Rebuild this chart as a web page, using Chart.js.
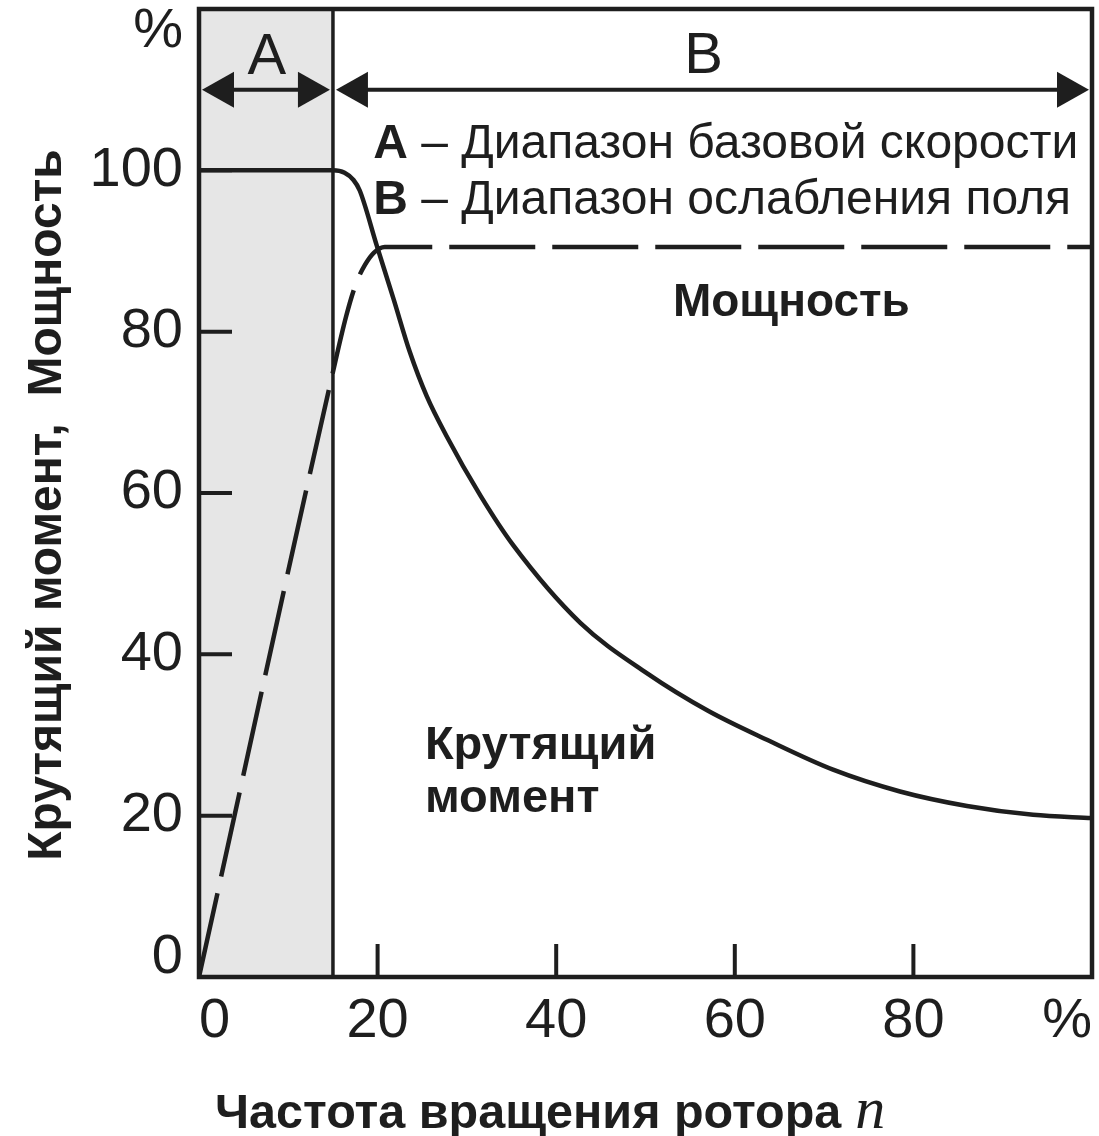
<!DOCTYPE html>
<html lang="ru">
<head>
<meta charset="UTF-8">
<title>Крутящий момент и мощность</title>
<script src="https://cdn.jsdelivr.net/npm/chart.js"></script>
<style>
    body { margin: 0; background: #fff; }
    #wrap { width: 1099px; height: 1136px; }
</style>
</head>
<body>
<div id="wrap"><canvas id="chart" width="1099" height="1136"></canvas></div>
<script>
// speed n, % of rated
const torqueSpeed  = [0, 15, 16.3, 17.3, 18, 19.9, 21.8, 23.6, 25.5, 27.7, 31.5, 35.2, 42.7, 50.1, 57, 63.6, 71, 78.5, 86, 93.4, 100];
const torqueValues = [100, 100, 99.7, 98.8, 97.5, 90.7, 84, 77.5, 72, 67.1, 59.7, 53.5, 43.9, 37.7, 33.0, 29.4, 25.7, 23, 21.2, 20.1, 19.7];
const powerSpeed   = [0, 15, 16.5, 17.6, 18.6, 19.6, 20.8, 22, 100];
const powerValues  = [0, 75, 82, 86, 88.3, 89.8, 90.5, 90.5, 90.5];

const xTickLabels = ['0', '20', '40', '60', '80', '%'];
const yTickLabels = ['0', '20', '40', '60', '80', '100', '%'];

// speed ranges: A = base speed, B = field weakening
const rangeEdges  = [0, 15, 100];
const rangeNames  = ['A', 'B'];
const rangeLegend = ['Диапазон базовой скорости', 'Диапазон ослабления поля'];

const INK = '#1e1e1e';
const SANS = '"Liberation Sans", Arial, Helvetica, sans-serif';
const SERIF = '"Liberation Serif", "Times New Roman", serif';

function toPoints(xs, ys) {
    return xs.map((v, i) => ({ x: v, y: ys[i] }));
}

function arrow(ctx, x1, x2, yy) {
    const L = 32, H = 18;
    ctx.beginPath();
    ctx.moveTo(x1 + L - 2, yy);
    ctx.lineTo(x2 - L + 2, yy);
    ctx.stroke();
    ctx.beginPath();
    ctx.moveTo(x1, yy); ctx.lineTo(x1 + L, yy - H); ctx.lineTo(x1 + L, yy + H);
    ctx.closePath(); ctx.fill();
    ctx.beginPath();
    ctx.moveTo(x2, yy); ctx.lineTo(x2 - L, yy - H); ctx.lineTo(x2 - L, yy + H);
    ctx.closePath(); ctx.fill();
}

const decor = {
    id: 'decor',
    beforeDatasetsDraw(chart) {
        const { ctx, chartArea: a, scales: { x, y } } = chart;
        ctx.save();
        // shaded base speed range
        const x0 = x.getPixelForValue(rangeEdges[0]);
        const x1 = x.getPixelForValue(rangeEdges[1]);
        ctx.fillStyle = '#e6e6e6';
        ctx.fillRect(x0, a.top, x1 - x0, a.bottom - a.top);
        ctx.strokeStyle = INK;
        ctx.lineWidth = 3.5;
        ctx.beginPath();
        ctx.moveTo(x1, a.top);
        ctx.lineTo(x1, a.bottom);
        ctx.stroke();

        // tick marks point into the plot
        ctx.lineWidth = 4;
        ctx.beginPath();
        x.ticks.forEach(t => {
            if (t.value <= x.min || t.value >= x.max) return;
            const px = x.getPixelForValue(t.value);
            ctx.moveTo(px, a.bottom);
            ctx.lineTo(px, a.bottom - 33);
        });
        y.ticks.forEach(t => {
            if (t.value <= y.min || t.value >= y.max) return;
            const py = y.getPixelForValue(t.value);
            ctx.moveTo(a.left, py);
            ctx.lineTo(a.left + 33, py);
        });
        ctx.stroke();
        ctx.restore();
    },
    afterDatasetsDraw(chart) {
        const { ctx, chartArea: a, scales: { x, y } } = chart;
        ctx.save();
        ctx.strokeStyle = INK;
        ctx.fillStyle = INK;

        // frame
        ctx.lineWidth = 4.5;
        ctx.strokeRect(a.left, a.top, a.right - a.left, a.bottom - a.top);

        // range arrows with their letters
        ctx.lineWidth = 4;
        const ay = y.getPixelForValue(110);
        for (let i = 0; i < rangeNames.length; i++) {
            const xa = x.getPixelForValue(rangeEdges[i]);
            const xb = x.getPixelForValue(rangeEdges[i + 1]);
            arrow(ctx, xa + 3, xb - 3, ay);
        }
        ctx.font = `58px ${SANS}`;
        ctx.textAlign = 'center';
        ctx.textBaseline = 'alphabetic';
        ctx.fillText(rangeNames[0], x.getPixelForValue(7.6), ay - 16);
        ctx.fillText(rangeNames[1], x.getPixelForValue(56.5), ay - 17);

        // legend of the ranges
        ctx.textAlign = 'left';
        const lx = x.getPixelForValue(19.5);
        [101.5, 94.6].forEach((v, i) => {
            const py = y.getPixelForValue(v);
            ctx.font = `bold 48px ${SANS}`;
            ctx.fillText(rangeNames[i], lx, py);
            const w = ctx.measureText(rangeNames[i]).width;
            ctx.font = `48px ${SANS}`;
            ctx.fillText(' \u2013 ' + rangeLegend[i], lx + w, py);
        });

        // curve names
        ctx.font = `bold 46px ${SANS}`;
        ctx.textAlign = 'right';
        ctx.fillText('Мощность', x.getPixelForValue(79.6), y.getPixelForValue(81.9));
        ctx.textAlign = 'left';
        ctx.font = `bold 47px ${SANS}`;
        ctx.fillText('Крутящий', x.getPixelForValue(25.3), y.getPixelForValue(27));
        ctx.fillText('момент', x.getPixelForValue(25.3), y.getPixelForValue(20.5));

        // x axis title
        ctx.font = `bold 48.5px ${SANS}`;
        const tx = 215, ty = 1128;
        ctx.fillText('Частота вращения ротора', tx, ty);
        const tw = ctx.measureText('Частота вращения ротора').width;
        ctx.font = `italic 60px ${SERIF}`;
        ctx.fillText('n', tx + tw + 14, ty);

        // y axis title
        ctx.translate(48, 505);
        ctx.rotate(-Math.PI / 2);
        ctx.font = `bold 48px ${SANS}`;
        ctx.textAlign = 'center';
        ctx.textBaseline = 'middle';
        ctx.fillText('Крутящий момент,  Мощность', 0, 0);
        ctx.restore();
    }
};

new Chart(document.getElementById('chart'), {
    type: 'line',
    data: {
        datasets: [
            {
                label: 'Крутящий момент',
                data: toPoints(torqueSpeed, torqueValues),
                borderColor: INK,
                borderWidth: 4.5,
                pointRadius: 0,
                cubicInterpolationMode: 'monotone',
                fill: false
            },
            {
                label: 'Мощность',
                data: toPoints(powerSpeed, powerValues),
                borderColor: INK,
                borderWidth: 4.5,
                borderDash: [86, 17],
                pointRadius: 0,
                cubicInterpolationMode: 'monotone',
                fill: false
            }
        ]
    },
    options: {
        responsive: false,
        animation: false,
        devicePixelRatio: 1,
        layout: { padding: { left: 0, right: 7, top: 9, bottom: 0 } },
        plugins: { legend: { display: false }, tooltip: { enabled: false } },
        scales: {
            x: {
                type: 'linear',
                min: 0,
                max: 100,
                grid: { display: false, drawTicks: false },
                border: { display: false },
                ticks: {
                    stepSize: 20,
                    align: 'inner',
                    padding: 11,
                    color: INK,
                    font: { family: SANS, size: 56 },
                    callback: (v, i) => xTickLabels[i]
                },
                afterFit: s => {
                    s.height = 159;
                    s.paddingLeft = 0;
                    s.paddingRight = 0;
                }
            },
            y: {
                min: 0,
                max: 120,
                grid: { display: false, drawTicks: false },
                border: { display: false },
                ticks: {
                    stepSize: 20,
                    padding: 16,
                    color: INK,
                    font: c => {
                        const v = c.tick ? c.tick.value : null;
                        return { family: SANS, size: 56, lineHeight: v === 0 ? 0.68 : v === 120 ? 0.82 : 1.2 };
                    },
                    callback: (v, i) => v === 0 ? [yTickLabels[i], ''] : v === 120 ? ['', yTickLabels[i]] : yTickLabels[i]
                },
                afterFit: s => {
                    s.width = 199;
                    s.paddingTop = 0;
                    s.paddingBottom = 0;
                }
            }
        }
    },
    plugins: [decor]
});
</script>
</body>
</html>
